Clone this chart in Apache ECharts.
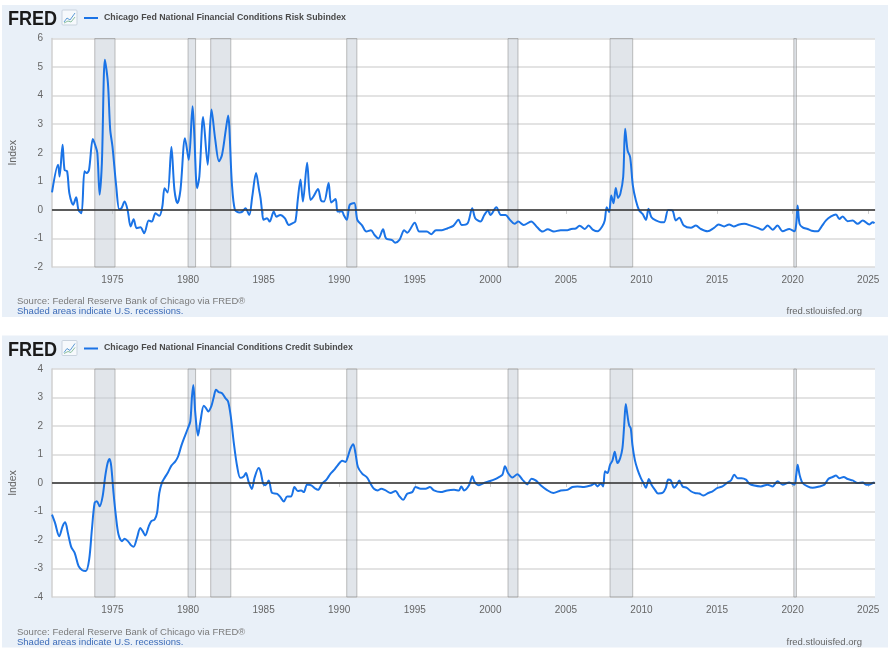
<!DOCTYPE html>
<html>
<head>
<meta charset="utf-8">
<title>Chicago Fed NFCI Risk and Credit Subindexes</title>
<script src="https://cdn.jsdelivr.net/npm/echarts@6/dist/echarts.min.js"></script>
<style>
html,body{margin:0;padding:0;background:#fff;}
#chart{width:894px;height:655px;}
</style>
</head>
<body>
<div id="chart"></div>
<script>
// values (decimal years)
const riskT = [1971.0,1971.4,1971.5,1971.7,1971.83,1972.0,1972.15,1972.4,1972.6,1972.75,1972.95,1973.15,1973.3,1973.45,1973.7,1973.85,1974.0,1974.15,1974.3,1974.5,1974.7,1974.85,1975.0,1975.25,1975.45,1975.6,1975.8,1976.0,1976.2,1976.4,1976.6,1976.85,1977.1,1977.4,1977.6,1977.85,1978.1,1978.3,1978.45,1978.65,1978.9,1979.1,1979.3,1979.5,1979.8,1980.05,1980.3,1980.4,1980.6,1980.75,1981.0,1981.3,1981.55,1981.8,1982.05,1982.25,1982.5,1982.65,1982.9,1983.1,1983.4,1983.6,1983.8,1984.05,1984.25,1984.5,1984.7,1984.8,1984.9,1985.0,1985.23,1985.4,1985.67,1985.85,1986.1,1986.4,1986.67,1986.9,1987.1,1987.26,1987.44,1987.6,1987.88,1988.1,1988.3,1988.6,1988.8,1989.0,1989.3,1989.47,1989.76,1989.9,1990.2,1990.3,1990.5,1990.7,1991.0,1991.2,1991.5,1991.8,1992.1,1992.34,1992.6,1992.9,1993.1,1993.5,1993.7,1994.0,1994.3,1994.5,1995.0,1995.3,1995.8,1996.1,1996.4,1996.8,1997.15,1997.55,1997.9,1998.1,1998.5,1998.8,1999.0,1999.35,1999.6,1999.85,2000.0,2000.4,2000.7,2001.0,2001.3,2001.6,2001.85,2002.2,2002.7,2003.1,2003.45,2003.8,2004.2,2004.65,2005.1,2005.35,2005.65,2005.9,2006.0,2006.25,2006.5,2006.8,2007.1,2007.4,2007.57,2007.7,2007.86,2008.0,2008.15,2008.3,2008.45,2008.6,2008.79,2008.92,2009.08,2009.25,2009.43,2009.63,2009.85,2010.07,2010.3,2010.46,2010.66,2010.95,2011.28,2011.5,2011.77,2012.05,2012.27,2012.5,2012.8,2013.27,2013.6,2013.93,2014.37,2014.8,2015.1,2015.47,2015.8,2016.1,2016.47,2016.8,2017.24,2017.68,2018.0,2018.35,2018.68,2019.0,2019.34,2019.78,2020.11,2020.24,2020.33,2020.46,2020.66,2020.99,2021.26,2021.66,2021.88,2022.21,2022.54,2022.87,2023.09,2023.31,2023.64,2023.97,2024.3,2024.64,2025.08,2025.3,2025.42];
const riskV = [0.61,1.58,1.17,2.28,1.40,1.35,0.58,0.18,0.44,0.0,-0.12,1.35,1.29,1.40,2.48,2.28,1.99,0.53,1.64,5.26,4.44,2.81,2.22,0.82,0.02,0.06,0.29,0.0,-0.58,-0.33,-0.64,-0.61,-0.82,-0.37,-0.41,-0.12,-0.21,0.12,0.76,0.61,2.2,0.70,0.23,0.70,2.51,1.75,3.63,2.81,0.76,1.17,3.25,1.58,3.51,2.46,1.70,1.93,2.81,3.30,0.94,0.0,-0.09,-0.06,0.06,-0.18,0.47,1.29,0.70,0.40,-0.06,-0.35,-0.29,-0.41,-0.06,-0.24,-0.18,-0.29,-0.53,-0.47,-0.41,0.35,1.06,0.29,1.65,0.35,0.47,0.73,0.33,0.29,0.94,0.26,0.38,-0.06,-0.06,-0.18,-0.35,0.18,0.24,-0.35,-0.53,-0.76,-0.71,-0.88,-1.0,-0.68,-1.0,-1.06,-1.15,-1.04,-0.71,-0.80,-0.45,-0.76,-0.76,-0.85,-0.71,-0.71,-0.65,-0.56,-0.35,-0.53,-0.47,0.06,-0.29,-0.41,-0.18,-0.02,-0.18,0.09,-0.18,-0.18,-0.35,-0.49,-0.41,-0.53,-0.41,-0.61,-0.76,-0.68,-0.76,-0.71,-0.71,-0.67,-0.65,-0.56,-0.58,-0.67,-0.55,-0.70,-0.75,-0.58,-0.37,0.09,-0.08,0.50,0.23,0.77,0.42,0.56,1.15,2.84,2.08,1.85,0.85,0.33,-0.02,-0.14,-0.35,0.04,-0.26,-0.37,-0.43,-0.43,0.0,-0.02,-0.37,-0.28,-0.55,-0.63,-0.55,-0.67,-0.75,-0.63,-0.51,-0.58,-0.51,-0.58,-0.51,-0.49,-0.55,-0.63,-0.70,-0.55,-0.70,-0.55,-0.75,-0.67,-0.75,-0.49,0.15,-0.49,-0.61,-0.67,-0.73,-0.75,-0.61,-0.37,-0.23,-0.16,-0.32,-0.23,-0.40,-0.37,-0.49,-0.37,-0.51,-0.43,-0.47];

const creditT = [1971.0,1971.2,1971.48,1971.7,1971.87,1972.05,1972.27,1972.5,1972.76,1973.0,1973.24,1973.46,1973.64,1973.82,1973.97,1974.15,1974.35,1974.52,1974.68,1974.81,1974.92,1975.07,1975.23,1975.4,1975.63,1975.8,1976.02,1976.24,1976.4,1976.62,1976.84,1977.0,1977.17,1977.4,1977.57,1977.79,1977.95,1978.1,1978.28,1978.45,1978.67,1978.9,1979.16,1979.34,1979.56,1979.78,1980.0,1980.15,1980.26,1980.35,1980.48,1980.66,1980.82,1981.04,1981.19,1981.33,1981.55,1981.7,1981.85,1982.03,1982.25,1982.47,1982.65,1982.83,1983.03,1983.25,1983.46,1983.68,1983.83,1984.0,1984.22,1984.4,1984.67,1984.8,1984.97,1985.12,1985.34,1985.56,1985.9,1986.1,1986.34,1986.56,1986.82,1987.04,1987.26,1987.48,1987.66,1987.88,1988.15,1988.43,1988.6,1988.87,1989.16,1989.43,1989.65,1989.9,1990.2,1990.42,1990.57,1990.75,1990.93,1991.08,1991.24,1991.52,1991.85,1992.07,1992.3,1992.56,1992.78,1993.07,1993.4,1993.73,1993.95,1994.24,1994.5,1994.83,1995.05,1995.39,1995.72,1996.0,1996.27,1996.71,1997.15,1997.6,1997.92,1998.08,1998.26,1998.59,1998.81,1998.96,1999.25,1999.58,1999.98,2000.24,2000.57,2000.8,2000.97,2001.17,2001.46,2001.79,2002.12,2002.45,2002.72,2003.0,2003.33,2003.73,2004.17,2004.66,2005.1,2005.43,2005.76,2006.2,2006.64,2006.9,2007.09,2007.31,2007.46,2007.59,2007.75,2007.92,2008.08,2008.23,2008.41,2008.59,2008.74,2008.85,2008.96,2009.07,2009.18,2009.29,2009.4,2009.56,2009.74,2009.96,2010.13,2010.29,2010.49,2010.66,2010.88,2011.1,2011.39,2011.61,2011.77,2011.94,2012.16,2012.34,2012.5,2012.72,2013.0,2013.27,2013.53,2013.82,2014.11,2014.42,2014.7,2015.03,2015.36,2015.7,2015.92,2016.14,2016.36,2016.62,2016.91,2017.13,2017.46,2017.9,2018.34,2018.68,2019.0,2019.34,2019.78,2020.11,2020.24,2020.33,2020.46,2020.66,2020.99,2021.32,2021.77,2022.1,2022.36,2022.65,2022.87,2023.09,2023.38,2023.64,2023.97,2024.3,2024.64,2024.86,2025.08,2025.3,2025.42];
const creditV = [-1.11,-1.40,-1.87,-1.52,-1.38,-1.75,-2.24,-2.45,-2.92,-3.06,-3.09,-2.68,-1.63,-0.70,-0.64,-0.82,-0.47,0.23,0.70,0.84,0.58,-0.35,-1.17,-1.81,-2.04,-1.96,-2.04,-2.19,-2.24,-1.93,-1.58,-1.69,-1.84,-1.52,-1.34,-1.28,-1.05,-0.35,0.02,0.18,0.37,0.61,0.76,0.93,1.31,1.63,1.93,2.16,3.03,3.44,2.45,1.66,2.16,2.71,2.63,2.51,2.71,3.01,3.27,3.19,3.15,2.98,2.86,2.33,1.40,0.58,0.18,0.23,0.35,0.06,-0.21,0.18,0.53,0.40,-0.02,-0.08,0.09,-0.35,-0.38,-0.49,-0.65,-0.47,-0.47,-0.14,-0.28,-0.26,-0.32,-0.05,-0.08,-0.20,-0.24,-0.02,0.12,0.33,0.45,0.62,0.78,0.74,0.92,1.21,1.36,1.04,0.56,0.33,0.19,-0.02,-0.20,-0.26,-0.20,-0.26,-0.35,-0.28,-0.44,-0.59,-0.38,-0.32,-0.14,-0.20,-0.20,-0.14,-0.26,-0.32,-0.26,-0.24,-0.26,-0.12,-0.26,-0.08,0.24,0.04,-0.08,0.0,0.07,0.12,0.21,0.29,0.59,0.35,0.19,0.31,0.12,-0.05,0.15,0.09,-0.08,-0.24,-0.35,-0.26,-0.24,-0.14,-0.12,-0.14,-0.09,-0.02,-0.12,-0.02,-0.12,0.41,0.35,0.64,0.79,1.10,0.70,0.87,1.22,1.98,2.77,2.38,2.03,1.92,1.34,0.81,0.47,0.17,0.0,-0.17,0.14,-0.06,-0.23,-0.37,-0.35,-0.17,0.12,0.09,-0.17,-0.06,0.09,-0.12,-0.17,-0.29,-0.35,-0.37,-0.44,-0.35,-0.29,-0.17,-0.12,0.02,0.09,0.29,0.17,0.17,0.12,-0.02,-0.09,-0.12,-0.06,-0.12,0.06,-0.06,0.02,-0.06,0.29,0.64,0.29,0.0,-0.12,-0.17,-0.12,-0.06,0.14,0.21,0.26,0.17,0.21,0.14,0.09,0.0,0.02,-0.06,-0.06,0.0,0.02];

const recessions = [[1973.83,1975.17],[1980.0,1980.5],[1981.5,1982.83],[1990.5,1991.17],[2001.17,2001.83],[2007.92,2009.42],[2020.08,2020.25]];
const yearTicks = [1975,1980,1985,1990,1995,2000,2005,2010,2015,2020,2025];
const riskTitle = 'Chicago Fed National Financial Conditions Risk Subindex';
const creditTitle = 'Chicago Fed National Financial Conditions Credit Subindex';

const colorSets = {
    line: '#1a73e6',
    panel: '#e9f0f8',
    grid: '#dadada',
    text: '#666',
    zero: '#333',
    shade: 'rgba(196,204,214,0.5)',
    shadeEdge: 'rgba(140,140,140,0.55)',
    link: '#3d6cb8'
};
const font = '"Liberation Sans", Arial, sans-serif';

function pairs(t, v) {
    return t.map((x, i) => [x, v[i]]);
}

function panelGraphics(off, title) {
    return [
        { type: 'rect', z: -100, shape: { x: 2, y: 5 + off, width: 886, height: 312 }, style: { fill: colorSets.panel } },
        { type: 'text', x: 8, y: 9 + off, scaleX: 0.86, style: { text: 'FRED', font: '900 21px ' + font, fill: '#1a1a1a' } },
        { type: 'rect', shape: { x: 62, y: 10 + off, width: 15, height: 15, r: 1 }, style: { fill: '#f6f9fc', stroke: '#c9d3de', lineWidth: 1 } },
        { type: 'polyline', shape: { points: [[64, 22 + off], [67, 18 + off], [70, 20 + off], [75, 13 + off]] }, style: { stroke: '#5b9bd5', lineWidth: 1, fill: null } },
        { type: 'polyline', shape: { points: [[64, 23 + off], [68, 21 + off], [71, 22 + off], [75, 17 + off]] }, style: { stroke: '#8cc0a0', lineWidth: 1, fill: null } },
        { type: 'line', shape: { x1: 84, y1: 18 + off, x2: 98, y2: 18 + off }, style: { stroke: colorSets.line, lineWidth: 2 } },
        { type: 'text', left: 104, top: 13 + off, style: { text: title, font: 'bold 8.8px ' + font, fill: '#4a4a4a' } },
        { type: 'text', left: 17, top: 296.5 + off, style: { text: 'Source: Federal Reserve Bank of Chicago via FRED\u00ae', font: '9.5px ' + font, fill: '#7a7a7a' } },
        { type: 'text', left: 17, top: 306.5 + off, style: { text: 'Shaded areas indicate U.S. recessions.', font: '9.5px ' + font, fill: colorSets.link } },
        { type: 'text', right: 894 - 862, top: 306.5 + off, style: { text: 'fred.stlouisfed.org', font: '9.5px ' + font, fill: '#666', align: 'right' } }
    ];
}

function xAxisDef(gridIndex) {
    return {
        type: 'value', gridIndex: gridIndex, min: 1971.0, max: 2025.45,
        axisLine: { show: true, lineStyle: { color: '#cccccc', width: 1.5 } },
        axisTick: { show: true, length: 4, customValues: yearTicks, lineStyle: { color: '#cccccc' } },
        splitLine: { show: false },
        axisLabel: { customValues: yearTicks, color: colorSets.text, fontSize: 10, fontFamily: font, margin: 8, formatter: v => String(v) }
    };
}

function yAxisDef(gridIndex, min, max) {
    return {
        type: 'value', gridIndex: gridIndex, min: min, max: max, interval: 1,
        name: 'Index', nameLocation: 'middle', nameGap: 33,
        nameTextStyle: { color: colorSets.text, fontSize: 10.5, fontFamily: font },
        axisLine: { show: true, lineStyle: { color: '#d0d0d0', width: 1.5 } },
        axisTick: { show: false },
        splitLine: { show: true, lineStyle: { color: colorSets.grid, width: 1.5 } },
        axisLabel: { color: colorSets.text, fontSize: 10, fontFamily: font, margin: 9, padding: [0, 0, 7, 0] }
    };
}

function seriesDef(idx, t, v) {
    return {
        type: 'line', xAxisIndex: idx, yAxisIndex: idx,
        data: pairs(t, v),
        showSymbol: false, smooth: 0.3,
        lineStyle: { color: colorSets.line, width: 2 },
        itemStyle: { color: colorSets.line },
        markArea: {
            silent: true,
            itemStyle: { color: colorSets.shade, borderColor: colorSets.shadeEdge, borderWidth: 1 },
            data: recessions.map(r => [{ xAxis: r[0] }, { xAxis: r[1] }])
        },
        markLine: {
            silent: true, symbol: 'none', animation: false,
            label: { show: false },
            lineStyle: { color: colorSets.zero, width: 1.5, type: 'solid' },
            data: [{ yAxis: 0 }]
        }
    };
}

const chart = echarts.init(document.getElementById('chart'));
chart.setOption({
    animation: false,
    textStyle: { fontFamily: font },
    graphic: { elements: panelGraphics(0, riskTitle).concat(panelGraphics(330.5, creditTitle)) },
    grid: [
        { left: 52, right: 19, top: 38.5, height: 228.5, show: true, backgroundColor: '#ffffff', borderWidth: 0 },
        { left: 52, right: 19, top: 369, height: 228, show: true, backgroundColor: '#ffffff', borderWidth: 0 }
    ],
    xAxis: [xAxisDef(0), xAxisDef(1)],
    yAxis: [yAxisDef(0, -2, 6), yAxisDef(1, -4, 4)],
    series: [seriesDef(0, riskT, riskV), seriesDef(1, creditT, creditV)]
});
</script>
</body>
</html>
